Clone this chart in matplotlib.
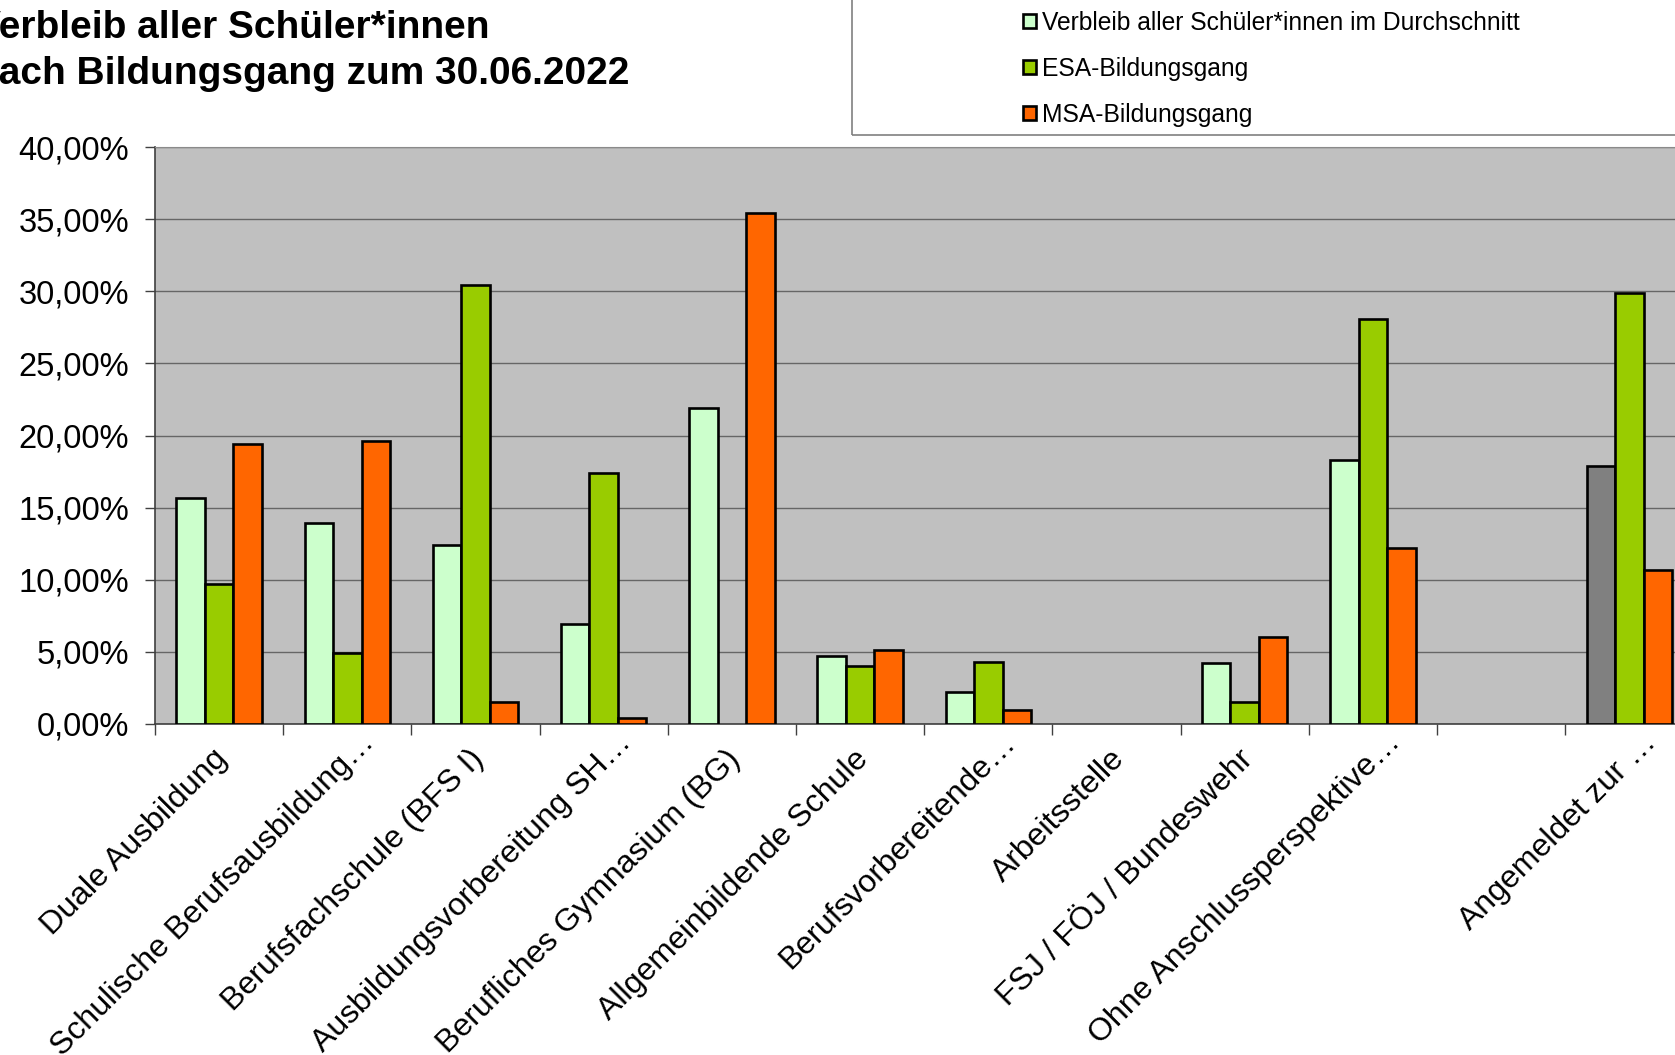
import numpy as np
import matplotlib
matplotlib.use("Agg")
import matplotlib.pyplot as plt
from matplotlib import font_manager, transforms
from matplotlib.patches import Rectangle
from matplotlib.ticker import FuncFormatter, FixedLocator

# data (percent)
categories = ["Duale Ausbildung", "Schulische Berufsausbildung\u2026",
              "Berufsfachschule (BFS I)", "Ausbildungsvorbereitung SH\u2026",
              "Berufliches Gymnasium (BG)", "Allgemeinbildende Schule",
              "Berufsvorbereitende\u2026", "Arbeitsstelle",
              "FSJ / F\u00d6J / Bundeswehr", "Ohne Anschlussperspektive\u2026",
              "", "Angemeldet zur \u2026"]
avg_all = [15.7, 13.9, 12.4, 6.9, 21.9, 4.7, 2.2, 0.0, 4.2, 18.3, 0.0, 17.9]
esa = [9.7, 4.9, 30.4, 17.4, 0.0, 4.0, 4.3, 0.0, 1.5, 28.1, 0.0, 29.9]
msa = [19.4, 19.6, 1.5, 0.4, 35.4, 5.1, 1.0, 0.0, 6.0, 12.2, 0.0, 10.7]
series_names = ["Verbleib aller Sch\u00fcler*innen im Durchschnitt",
                "ESA-Bildungsgang", "MSA-Bildungsgang"]
yticks = [0, 5, 10, 15, 20, 25, 30, 35, 40]

W, H = 1675, 1055
plt.rcParams['font.family'] = ['Liberation Sans', 'DejaVu Sans']

# narrow bold font for the title if it is there
try:
    font_manager.findfont(font_manager.FontProperties(family='Liberation Sans Narrow', weight='bold'),
                          fallback_to_default=False)
    title_family, title_size = 'Liberation Sans Narrow', 34
except ValueError:
    title_family, title_size = 'Liberation Sans', 28

fig = plt.figure(figsize=(W / 100, H / 100), dpi=100)

# plot area (pixel geometry of the reference, right side runs off the picture)
left, top, bottom, cat_w = 155, 147, 724, 128.2
ax = fig.add_axes([left / W, 1 - bottom / H, len(categories) * cat_w / W, (bottom - top) / H])
ax.set_facecolor('#C0C0C0')

x = np.arange(len(categories))
bw = 1 / 4.5
colors_avg = ['#CCFFCC'] * len(categories)
colors_avg[-1] = '#808080'
b1 = ax.bar(x - bw, avg_all, bw, color=colors_avg, edgecolor='black', linewidth=1.9, label=series_names[0], zorder=3)
b2 = ax.bar(x, esa, bw, color='#99CC00', edgecolor='black', linewidth=1.9, label=series_names[1], zorder=3)
b3 = ax.bar(x + bw, msa, bw, color='#FF6600', edgecolor='black', linewidth=1.9, label=series_names[2], zorder=3)
for cont in (b1, b2, b3):
    for p in cont.patches:
        if p.get_height() == 0:
            p.set_linewidth(0)

ax.set_xlim(-0.5, len(categories) - 0.5)
ax.set_ylim(0, 40)
ax.set_yticks(yticks)
ax.yaxis.set_major_formatter(FuncFormatter(lambda v, _: f"{v:.2f}%".replace('.', ',')))
ax.tick_params(axis='y', length=7, width=1, color='#404040', pad=11.5, labelsize=23.5)
ax.grid(axis='y', color='#666666', linewidth=1.0, zorder=1)

ax.xaxis.set_major_locator(FixedLocator(np.arange(len(categories) + 1) - 0.5))
ax.set_xticklabels([])
ax.tick_params(axis='x', length=8, width=1, color='#404040')

for s in ('left', 'bottom'):
    ax.spines[s].set_color('#404040')
    ax.spines[s].set_linewidth(1.2)
ax.spines['top'].set_color('#8a8a8a')
ax.spines['right'].set_visible(False)

# rotated category labels; the cut-off ones (ending in an ellipsis) sit higher
full_tr = transforms.offset_copy(ax.get_xaxis_transform(), fig=fig, x=-7 * 0.72, y=-20 * 0.72, units='points')
cut_tr = transforms.offset_copy(ax.get_xaxis_transform(), fig=fig, x=12 * 0.72, y=-3 * 0.72, units='points')
for xi, name in zip(x, categories):
    tr = cut_tr if name.endswith('\u2026') else full_tr
    ax.text(xi, 0, name, transform=tr, rotation=45, rotation_mode='anchor',
            ha='right', va='top', fontsize=23, clip_on=False)

# title, starting left of the picture edge as in the reference
fig.text(-25 / W, 1 - 38.5 / H, "Verbleib aller Sch\u00fcler*innen", family=title_family,
         fontsize=title_size, fontweight='bold', va='baseline', ha='left')
fig.text(-25 / W, 1 - 84 / H, "nach Bildungsgang zum 30.06.2022", family=title_family,
         fontsize=title_size, fontweight='bold', va='baseline', ha='left')

# legend frame runs off the top and right edges
fig.patches.append(Rectangle((852 / W, 1 - 135 / H), 1, 1, transform=fig.transFigure,
                             fill=False, edgecolor='#808080', linewidth=1.2))
fig.legend(handles=[b1, b2, b3], loc='upper left', bbox_to_anchor=(1023 / W, 1 - 10.5 / H),
           frameon=False, fontsize=17.7, borderpad=0, borderaxespad=0,
           handlelength=0.53, handleheight=0.53, handletextpad=0.24, labelspacing=0.9)

fig.savefig("out.png", dpi=100)
